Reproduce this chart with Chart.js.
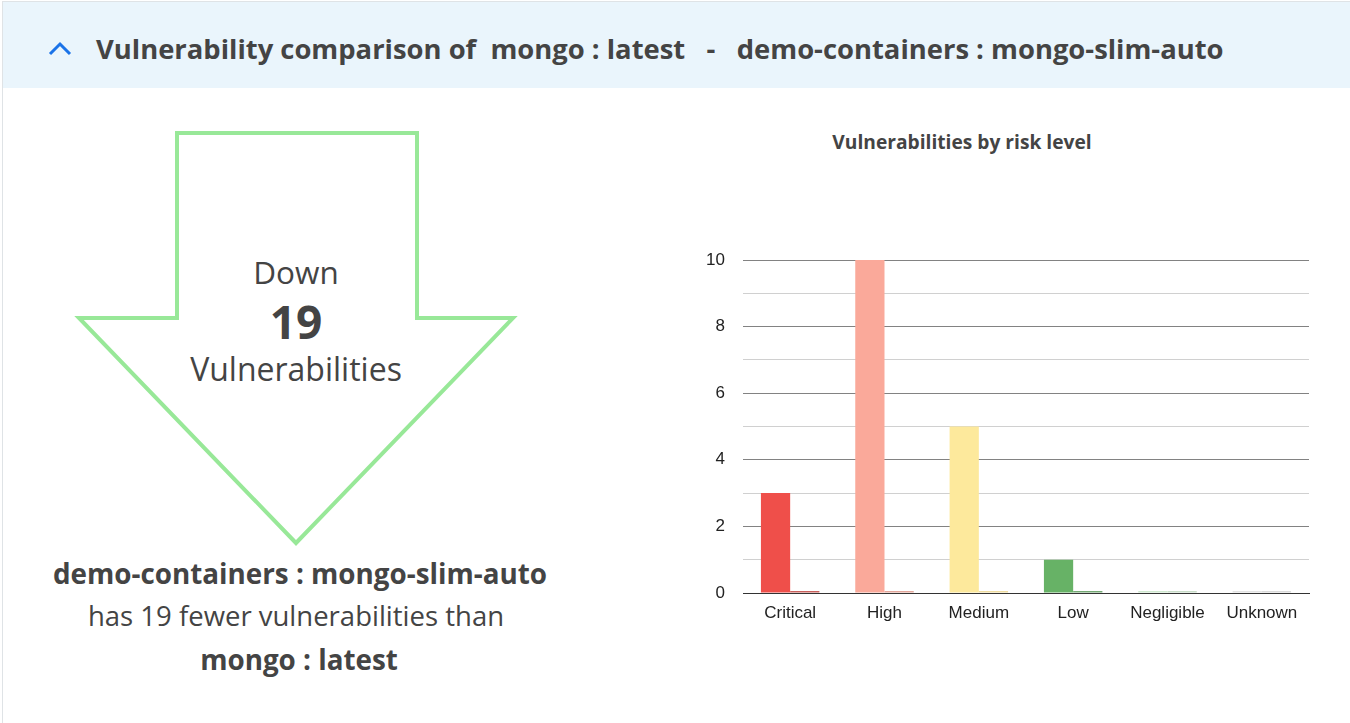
<!DOCTYPE html>
<html>
<head>
<meta charset="utf-8">
<script src="https://cdn.jsdelivr.net/npm/chart.js@4/dist/chart.umd.min.js"></script>
<style>
  html, body { margin:0; padding:0; background:#fff; width:1350px; height:723px; overflow:hidden; font-family:"Open Sans", sans-serif; }
  #card { position:absolute; left:2px; top:1px; width:1360px; height:740px; border:1px solid #dfe3e6; box-sizing:border-box; }
  #header { position:absolute; left:3px; top:2px; width:1347px; height:86px; background:#eaf5fc; }
  #chev { position:absolute; left:46px; top:38px; }
  #title { position:absolute; left:96px; top:30px; font-size:27.4px; font-weight:700; color:#444; white-space:pre; }
  #arrow { position:absolute; left:0; top:0; }
  .t { position:absolute; width:600px; left:-4px; text-align:center; color:#444; white-space:pre; }
  #ctitle { position:absolute; left:762px; width:400px; top:128px; text-align:center; font-size:19.2px; font-weight:700; color:#444; white-space:pre; }
  #chartBox { position:absolute; left:690px; top:120px; width:630px; height:510px; }
</style>
</head>
<body>
<div id="card"></div>
<div id="header"></div>
<svg id="chev" width="30" height="24"><polyline points="4,16 14,6 24,16" fill="none" stroke="#1a73e8" stroke-width="3"/></svg>
<div id="title">Vulnerability comparison of  mongo : latest   -   demo-containers : mongo-slim-auto</div>
<svg id="arrow" width="600" height="600"><polygon points="177,133 417,133 417,318 513,318 296,543 79,318 177,318" fill="none" stroke="#98e898" stroke-width="4"/></svg>
<div class="t" style="top:250px;font-size:31.5px;">Down</div>
<div class="t" style="top:290px;font-size:46px;font-weight:700;">19</div>
<div class="t" style="top:347px;font-size:32px;">Vulnerabilities</div>
<div class="t" style="top:554px;left:0px;font-size:27.8px;font-weight:700;">demo-containers : mongo-slim-auto</div>
<div class="t" style="top:597px;font-size:27.5px;">has 19 fewer vulnerabilities than</div>
<div class="t" style="top:640px;left:-1px;font-size:27.8px;font-weight:700;">mongo : latest</div>
<div id="ctitle">Vulnerabilities by risk level</div>
<div id="chartBox"><canvas id="c"></canvas></div>
<script>
const categories = ["Critical", "High", "Medium", "Low", "Negligible", "Unknown"];
const mongoLatest = [3, 10, 5, 1, 0, 0];
const mongoSlimAuto = [0, 0, 0, 0, 0, 0];
const yTicks = [0, 2, 4, 6, 8, 10];
const colorsA = ["#ef4f4a", "#faa99a", "#fde99c", "#67b266", "#cfe8cf", "#e3e3e3"];
const colorsB = ["#c9605c", "#e2a69b", "#efdca0", "#74a874", "#c8dcc8", "#dadada"];

new Chart(document.getElementById('c'), {
  type: 'bar',
  data: {
    labels: categories,
    datasets: [
      { label: "mongo : latest", data: mongoLatest, backgroundColor: colorsA, minBarLength: 2, categoryPercentage: 0.62, barPercentage: 1 },
      { label: "demo-containers : mongo-slim-auto", data: mongoSlimAuto, backgroundColor: colorsB, minBarLength: 2, categoryPercentage: 0.62, barPercentage: 1 }
    ]
  },
  options: {
    responsive: true,
    maintainAspectRatio: false,
    animation: false,
    layout: { padding: { left: 0, right: 11, top: 140, bottom: 0 } },
    plugins: {
      legend: { display: false },
      tooltip: { enabled: false },
      title: { display: false }
    },
    scales: {
      x: {
        z: 1,
        grid: { display: false, drawTicks: false },
        border: { display: true, color: "#333", width: 1 },
        ticks: { color: "#222", font: { family: "Liberation Sans", size: 17 }, padding: 10, maxRotation: 0, autoSkip: false },
        afterFit: (s) => { s.height = 37; }
      },
      y: {
        min: 0, max: 10,
        grid: {
          drawTicks: false,
          color: (ctx) => ctx.tick.value === 0 ? "#333" : (yTicks.includes(ctx.tick.value) ? "#828282" : "#d0d0d0")
        },
        border: { display: false },
        ticks: {
          stepSize: 1,
          color: "#222",
          font: { family: "Liberation Sans", size: 17 },
          padding: 18,
          callback: (v) => yTicks.includes(v) ? String(v) : ""
        },
        afterFit: (s) => { s.width = 53; }
      }
    }
  }
});
</script>
</body>
</html>
